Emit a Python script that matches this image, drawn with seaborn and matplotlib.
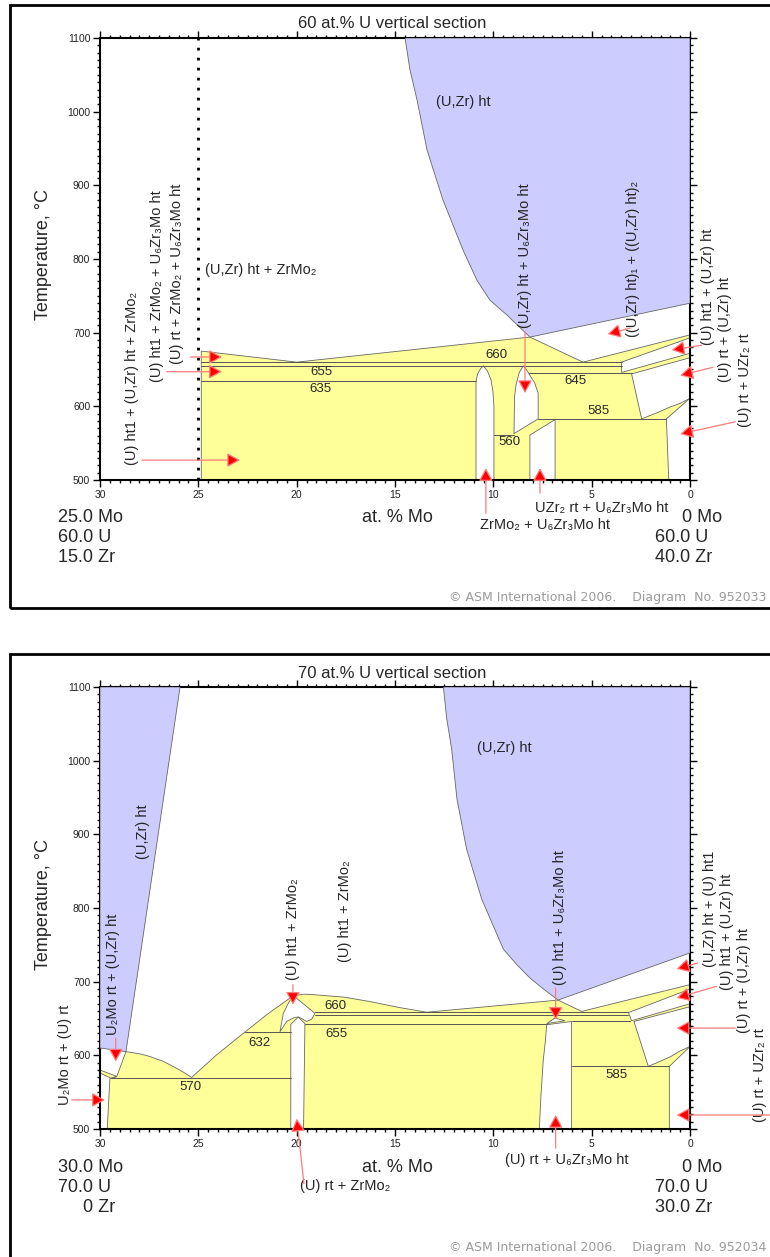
import matplotlib
matplotlib.use("Agg")
import matplotlib.pyplot as plt
from matplotlib.patches import Rectangle
from matplotlib.ticker import MultipleLocator
import pandas as pd
import seaborn as sns

W, H = 770, 1257

# ---------------- 60 at.% U section: points are (at.% Mo, T degC) ----------------
U60_SINGLE = [[(14.49, 1100), (14.24, 1057), (13.88, 1016), (13.37, 948), (12.56, 880),
               (11.54, 812), (10.83, 771), (10.17, 744), (9.31, 724), (8.14, 694),
               (0, 740), (0, 1100)]]
U60_THREE = [[(24.85, 500), (24.85, 675), (20, 660), (8.14, 694), (5.44, 660),
              (0, 697), (0, 500)]]
U60_TWO = [
    [(10.88, 500), (10.88, 634), (10.8, 644), (10.65, 651), (10.51, 655), (10.3, 648),
     (10.12, 636), (10.02, 620), (9.97, 600), (9.97, 500)],
    [(8.48, 655), (8.68, 646), (8.84, 630), (8.92, 613), (8.95, 563), (7.72, 583),
     (7.72, 618), (7.9, 632), (8.14, 642), (8.32, 650)],
    [(8.14, 500), (8.14, 561), (6.86, 582), (6.86, 500)],
    [(3.48, 660), (0, 693), (0, 672), (3.48, 646)],
    [(2.97, 644), (0, 666), (0, 611), (0.5, 604), (1.02, 599), (1.7, 591), (2.46, 583)],
    [(1.2, 583), (0, 611), (0, 500), (1.08, 500)],
]
U60_ISOTHERMS = [(660, 24.85, 3.48), (655, 24.85, 3.48), (645, 8.2, 2.97),
                 (634, 24.85, 10.88), (583, 7.72, 1.2), (561, 9.97, 8.95)]
U60_TEMPS = [("655", 18.73, 647), ("635", 18.8, 623), ("660", 9.83, 670),
             ("645", 5.85, 634), ("585", 4.66, 593), ("560", 9.2, 552)]
U60_PHASES = [
    ("(U,Zr) ht", 12.92, 1013, 0, "left", "center"),
    ("(U,Zr) ht + ZrMo₂", 24.66, 785, 0, "left", "center"),
    ("(U) ht1 + (U,Zr) ht + ZrMo₂", 28.37, 520, 90, "center", "bottom"),
    ("(U) ht1 + ZrMo₂ + U₆Zr₃Mo ht", 27.1, 633, 90, "center", "bottom"),
    ("(U) rt + ZrMo₂ + U₆Zr₃Mo ht", 26.08, 658, 90, "center", "bottom"),
    ("(U,Zr) ht + U₆Zr₃Mo ht", 8.39, 706, 90, "center", "bottom"),
    ("((U,Zr) ht)₁ + ((U,Zr) ht)₂", 2.9, 694, 90, "center", "bottom"),
    ("(U) ht1 + (U,Zr) ht", -0.91, 683, 90, "center", "bottom"),
    ("(U) rt + (U,Zr) ht", -1.78, 633, 90, "center", "bottom"),
    ("(U) rt + UZr₂ rt", -2.8, 572, 90, "center", "bottom"),
    ("UZr₂ rt + U₆Zr₃Mo ht", 7.88, 462, 0, "left", "center"),
    ("ZrMo₂ + U₆Zr₃Mo ht", 10.68, 439, 0, "left", "center"),
]
U60_ARROWS = [((27.86, 527), (22.88, 527)), ((26.6, 647), (23.8, 647)),
              ((25.4, 667), (23.8, 667)), ((8.39, 701), (8.39, 618)),
              ((3.05, 706), (4.19, 698)), ((-0.6, 683), (0.93, 676.5)),
              ((-1.17, 653), (0.5, 642)), ((-2.3, 579), (0.5, 562.5)),
              ((7.63, 482), (7.63, 516)), ((10.38, 455), (10.38, 516))]
U60_COMPOSITION = (["25.0 Mo", "60.0 U", "15.0 Zr"], ["0 Mo", "60.0 U", "40.0 Zr"])

# ---------------- 70 at.% U section ----------------
U70_SINGLE = [[(30, 1100), (25.93, 1100), (28.68, 605), (30, 610)],
              [(12.54, 1100), (12.37, 1057), (12.12, 1016), (11.85, 948), (11.36, 880),
               (10.59, 812), (9.49, 744), (8.8, 723), (8.14, 705), (7.4, 689),
               (6.71, 675), (0, 739), (0, 1100)]]
U70_THREE = [[(29.63, 500), (29.5, 568), (29.15, 571), (28.68, 605), (27.97, 602),
              (27.46, 598.4), (26.8, 592), (26.27, 584.8), (25.75, 577), (25.34, 570),
              (24.07, 600.7), (22.63, 631.6), (21.53, 655), (20.8, 669), (20.17, 681),
              (19.6, 683), (18.98, 682), (17.6, 679), (16.27, 673), (14.8, 665),
              (13.39, 658.5), (6.71, 675), (5.51, 659.6), (0, 696), (0, 500)],
             [(30, 580), (30, 576), (29.45, 569), (29.15, 571.5)]]
U70_TWO = [
    [(20.17, 681), (19.07, 657), (19.24, 649), (19.5, 646), (19.75, 650), (19.92, 652),
     (20.15, 651), (20.51, 646), (20.85, 632), (20.68, 657), (20.4, 672)],
    [(20.3, 500), (20.3, 642), (19.92, 652), (19.58, 643), (19.65, 500)],
    [(7.29, 643), (6.87, 650.6), (6.36, 647)],
    [(7.29, 641.5), (7.35, 620), (7.46, 594), (7.58, 545), (7.66, 500), (6.02, 500),
     (6.02, 646)],
    [(3.13, 658), (0, 690), (0, 670), (2.97, 647)],
    [(2.85, 646), (0, 666), (0, 612), (0.5, 606), (1.0, 598), (1.6, 591), (2.12, 585)],
    [(1.05, 585), (0, 612), (0, 500), (1.05, 500)],
]
U70_ISOTHERMS = [(569.5, 29.45, 20.3), (631.6, 22.63, 20.3), (658.5, 19.07, 3.13),
                 (654.5, 19.07, 3.13), (643, 19.58, 7.29), (646, 6.02, 3.05),
                 (585, 6.02, 1.05)]
U70_TEMPS = [("570", 25.42, 557.5), ("632", 21.9, 617.4), ("660", 18.05, 667.6),
             ("655", 17.97, 629.3), ("585", 3.73, 573.5)]
U70_PHASES = [
    ("(U,Zr) ht", 27.81, 904, 90, "center", "center"),
    ("(U,Zr) ht", 10.83, 1017, 0, "left", "center"),
    ("(U) ht1 + ZrMo₂", 20.19, 702.7, 90, "center", "bottom"),
    ("(U) ht1 + ZrMo₂", 17.54, 727.2, 90, "center", "bottom"),
    ("(U) ht1 + U₆Zr₃Mo ht", 6.61, 696, 90, "center", "bottom"),
    ("(U,Zr) ht + (U) ht1", -1.02, 720.4, 90, "center", "bottom"),
    ("(U) ht1 + (U,Zr) ht", -1.88, 689, 90, "center", "bottom"),
    ("(U) rt + (U,Zr) ht", -2.75, 630.6, 90, "center", "bottom"),
    ("(U) rt + UZr₂ rt", -3.56, 509.5, 90, "center", "bottom"),
    ("U₂Mo rt + (U,Zr) ht", 29.34, 628, 90, "center", "bottom"),
    ("U₂Mo rt + (U) rt", 31.78, 532.7, 90, "center", "bottom"),
    ("(U) rt + ZrMo₂", 19.83, 422.4, 0, "left", "center"),
    ("(U) rt + U₆Zr₃Mo ht", 6.25, 457.8, 0, "center", "center"),
]
U70_ARROWS = [((20.19, 696), (20.19, 668.7)), ((6.83, 691.4), (6.83, 648.3)),
              ((-0.4, 725.4), (0.68, 717.3)), ((-1.35, 693.7), (0.68, 677.9)),
              ((-2.3, 637), (0.68, 637)), ((-4.07, 519), (0.68, 519)),
              ((29.2, 623.4), (29.2, 591.6)), ((31.44, 539.5), (29.75, 539.5)),
              ((19.63, 426), (20.0, 514)), ((6.83, 474), (6.83, 519))]
U70_COMPOSITION = (["30.0 Mo", "70.0 U", "0 Zr"], ["0 Mo", "70.0 U", "30.0 Zr"])

BLUE, YELLOW, EDGE = "#ccccff", "#ffff99", "#666666"

sns.set_theme(style="white")
plt.rcParams["font.family"] = ["Liberation Sans", "DejaVu Sans"]

fig = plt.figure(figsize=(W / 100, H / 100), dpi=100)
fig.patch.set_facecolor("white")


def ftext(x, y, s, **kw):
    # position in figure pixels (origin top-left)
    fig.text(x / W, 1 - y / H, s, **kw)


def polys(ax, shapes, color, z):
    for shape in shapes:
        xs, ys = zip(*shape)
        ax.fill(xs, ys, facecolor=color, edgecolor=EDGE, lw=0.6, zorder=z)


def draw_section(ax, single, three, two, isotherms, temps, phases, arrows):
    polys(ax, three, YELLOW, 1)
    polys(ax, two, "white", 1.5)
    polys(ax, single, BLUE, 3)

    rows = []
    for i, (t, a, b) in enumerate(isotherms):
        rows += [dict(line=i, mo=a, t=t), dict(line=i, mo=b, t=t)]
    sns.lineplot(data=pd.DataFrame(rows), x="mo", y="t", units="line", estimator=None,
                 sort=False, color="#555555", lw=0.7, legend=False, ax=ax, zorder=2.5)

    for s, x, y in temps:
        ax.text(x, y, s, ha="center", va="center", fontsize=9.5, zorder=4)
    for s, x, y, rot, ha, va in phases:
        ax.text(x, y, s, rotation=rot, ha=ha, va=va, fontsize=10.5, zorder=4,
                clip_on=False)
    for tail, head in arrows:
        ax.annotate("", xy=head, xytext=tail, annotation_clip=False, zorder=5,
                    arrowprops=dict(arrowstyle="-|>,head_length=0.6,head_width=0.33",
                                    fc="red", ec="#ff7a7a", lw=0.9, mutation_scale=13,
                                    shrinkA=0, shrinkB=0))

    ax.set_xlim(30, 0)
    ax.set_ylim(500, 1100)
    ax.set_xlabel("")
    ax.set_ylabel("")
    ax.xaxis.set_major_locator(MultipleLocator(5))
    ax.xaxis.set_minor_locator(MultipleLocator(0.5))
    ax.yaxis.set_major_locator(MultipleLocator(100))
    ax.yaxis.set_minor_locator(MultipleLocator(10))
    ax.tick_params(which="both", direction="out", top=True, right=True, bottom=True,
                   left=True, color="black", width=1)
    ax.tick_params(which="major", length=5, labelsize=7.5, pad=2, labelcolor="#222222")
    ax.tick_params(which="minor", length=2.5)
    for sp in ax.spines.values():
        sp.set_color("black")
        sp.set_linewidth(1.5)


sections = [
    ("60 at.% U vertical section", 0, 480, U60_SINGLE, U60_THREE, U60_TWO, U60_ISOTHERMS,
     U60_TEMPS, U60_PHASES, U60_ARROWS, U60_COMPOSITION, "952033"),
    ("70 at.% U vertical section", 650, 1129, U70_SINGLE, U70_THREE, U70_TWO, U70_ISOTHERMS,
     U70_TEMPS, U70_PHASES, U70_ARROWS, U70_COMPOSITION, "952034"),
]

for (title, top, ax_bottom, single, three, two, iso, temps, phases, arrows,
     comp, number) in sections:
    ax = fig.add_axes([100 / W, 1 - ax_bottom / H, 590 / W, 442 / H])
    draw_section(ax, single, three, two, iso, temps, phases, arrows)
    if top == 0:
        ax.axvline(25, color="black", lw=2, ls=(0, (1, 2.6)), zorder=4)

    fig.patches.append(Rectangle((10 / W, 1 - (top + 608 if top == 0 else 1290) / H),
                                 780 / W, ((608 - 5) if top == 0 else (1290 - 654)) / H,
                                 transform=fig.transFigure, fill=False, ec="black",
                                 lw=2, zorder=10))
    ftext(392, top + 23, title, ha="center", va="center", fontsize=12)
    ftext(43, top + 255, "Temperature, °C", rotation=90, ha="center", va="center",
          fontsize=13)
    ftext(362, top + 518, "at. % Mo", ha="left", va="center", fontsize=13)
    left, right = comp
    for i, s in enumerate(left):
        ftext(58 if i < 2 or top == 0 else 83, top + 518 + 19.5 * i, s, ha="left",
              va="center", fontsize=13)
    for i, s in enumerate(right):
        ftext(682 if i == 0 else 655, top + 518 + 19.5 * i, s, ha="left", va="center",
              fontsize=13)
    ftext(766, top + 597, "© ASM International 2006.    Diagram  No. " + number,
          ha="right", va="center", fontsize=9, color="#9a9a9a", family="DejaVu Sans")

fig.savefig("out.png", dpi=100, facecolor="white")
